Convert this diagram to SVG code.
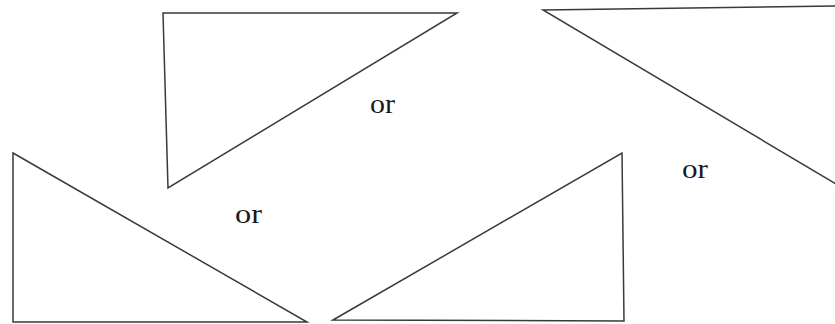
<svg xmlns="http://www.w3.org/2000/svg" width="835" height="324" viewBox="0 0 835 324">
<style>
.tri{fill:none;stroke:#3a3a3a;stroke-width:1.5;stroke-linejoin:miter}
.lbl{font-family:"Liberation Serif","DejaVu Serif",serif;font-size:27px;fill:#1a1a1a}
</style>
<rect width="835" height="324" fill="#ffffff"/>
<g id="triangle1"><polygon class="tri" points="163,13 457,13 168,188"/></g>
<g id="triangle2"><polygon class="tri" points="543,10 836,6 836,184"/></g>
<g id="triangle3"><polygon class="tri" points="13,153 307,322 13,322"/></g>
<g id="triangle4"><polygon class="tri" points="333,320 622,153 624,321"/></g>
<g id="labels">
<text class="lbl" x="370" y="113" textLength="25" lengthAdjust="spacingAndGlyphs">or</text>
<text class="lbl" x="682" y="178" textLength="26" lengthAdjust="spacingAndGlyphs">or</text>
<text class="lbl" x="235" y="223" textLength="27" lengthAdjust="spacingAndGlyphs">or</text>
</g>
</svg>
